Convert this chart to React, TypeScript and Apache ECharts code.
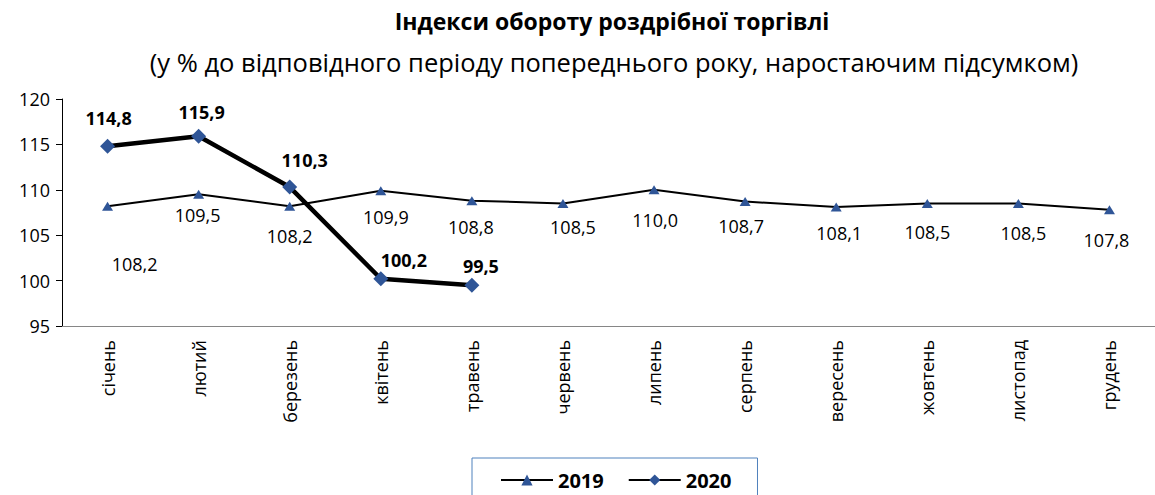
import React, { useEffect, useRef } from "react";
import * as echarts from "echarts";

const months = [
  "січень", "лютий", "березень", "квітень", "травень", "червень",
  "липень", "серпень", "вересень", "жовтень", "листопад", "грудень",
];
const values2019 = [108.2, 109.5, 108.2, 109.9, 108.8, 108.5, 110.0, 108.7, 108.1, 108.5, 108.5, 107.8];
const values2020 = [114.8, 115.9, 110.3, 100.2, 99.5];
const yTicks = { min: 95, max: 120, interval: 5 };
const seriesNames = ["2019", "2020"];
const titleText = "Індекси обороту роздрібної торгівлі";
const subtitleText = "(у % до відповідного періоду попереднього року, наростаючим підсумком)";

const FONT = "'Open Sans', 'Noto Sans', sans-serif";
const BLUE = "#2F5597";

export default function App() {
  const ref = useRef<HTMLDivElement>(null);
  useEffect(() => {
    if (!ref.current) return;
    const chart = echarts.init(ref.current, undefined, { renderer: "svg" });
    const off2019 = [[27, 58], [-1, 21], [0, 30], [5, 26], [-1, 26], [10, 24], [1, 30], [-4, 24], [3, 26], [0, 29], [5, 30], [-3, 30]];
    const off2020 = [[1, -28], [3, -24], [15, -27], [23, -19], [9, -19]];
    const fmt = (v: number) => v.toFixed(1).replace(".", ",");
    chart.setOption({
      animation: false,
      textStyle: { fontFamily: FONT },
      graphic: [
        {
          type: "text", x: 612, y: 21,
          style: { text: titleText, fontFamily: FONT, fontSize: 23, fontWeight: "bold", fill: "#000", textAlign: "center", textVerticalAlign: "middle" },
        },
        {
          type: "text", x: 614, y: 62,
          style: { text: subtitleText, fontFamily: FONT, fontSize: 25.5, fill: "#000", textAlign: "center", textVerticalAlign: "middle" },
        },
      ],
      grid: { left: 62, top: 99, width: 1102, height: 227, containLabel: false },
      legend: {
        data: seriesNames,
        left: 472,
        top: 458,
        padding: [12, 26, 16, 28],
        borderColor: "#4F81BD",
        borderWidth: 1,
        itemWidth: 52,
        itemHeight: 14,
        itemGap: 24,
        textStyle: { fontFamily: FONT, fontSize: 20, fontWeight: "bold", color: "#000" },
      },
      xAxis: {
        type: "category",
        data: months,
        boundaryGap: true,
        axisLine: { lineStyle: { color: "#868686", width: 1 } },
        axisTick: { alignWithLabel: false, length: 6, lineStyle: { color: "#868686" } },
        axisLabel: { rotate: 90, margin: 14, fontSize: 18, color: "#000", fontFamily: FONT },
        splitLine: { show: false },
      },
      yAxis: {
        type: "value",
        min: yTicks.min,
        max: yTicks.max,
        interval: yTicks.interval,
        axisLine: { show: true, lineStyle: { color: "#000", width: 1 } },
        axisTick: { show: true, length: 6, lineStyle: { color: "#000" } },
        axisLabel: { fontSize: 18, color: "#000", margin: 12, fontFamily: FONT },
        splitLine: { show: false },
      },
      series: [
        {
          name: seriesNames[0],
          type: "line",
          data: values2019.map((v, i) => ({
            value: v,
            label: { offset: off2019[i] },
          })),
          symbol: "triangle",
          symbolSize: [11, 9],
          itemStyle: { color: BLUE },
          lineStyle: { color: "#000", width: 2 },
          label: {
            show: true,
            position: "inside",
            formatter: (p: any) => fmt(p.value),
            fontSize: 18,
            color: "#000",
            fontFamily: FONT,
          },
          z: 2,
        },
        {
          name: seriesNames[1],
          type: "line",
          data: values2020.map((v, i) => ({
            value: v,
            label: { offset: off2020[i] },
          })),
          symbol: "diamond",
          symbolSize: 15,
          itemStyle: { color: BLUE },
          lineStyle: { color: "#000", width: 4.5 },
          label: {
            show: true,
            position: "inside",
            formatter: (p: any) => fmt(p.value),
            fontSize: 18,
            fontWeight: "bold",
            color: "#000",
            fontFamily: FONT,
          },
          z: 3,
        },
      ],
    });
    return () => chart.dispose();
  }, []);
  return (
    <div
      ref={ref}
      style={{ position: "absolute", left: 0, top: 0, width: 1155, height: 495 }}
    />
  );
}
